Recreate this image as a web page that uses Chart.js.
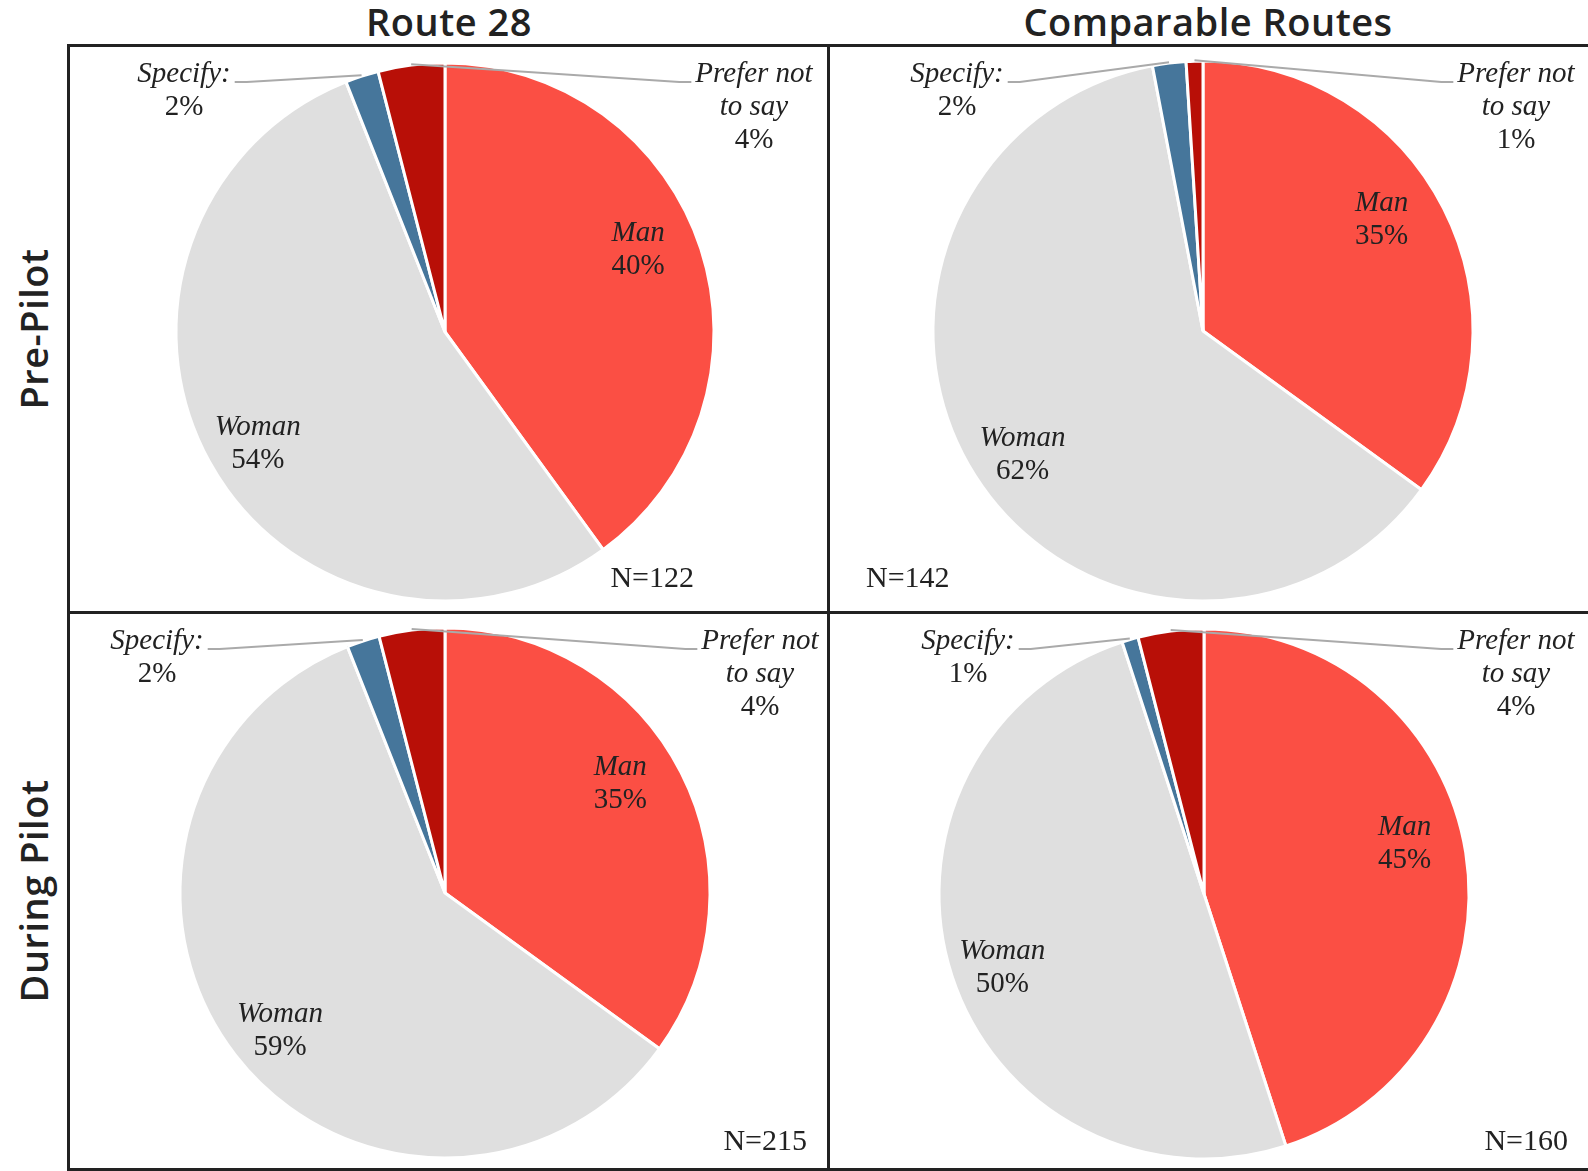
<!DOCTYPE html>
<html lang="en">
<head>
<meta charset="UTF-8">
<title>Gender - Route 28 vs Comparable Routes</title>
<script src="https://cdn.jsdelivr.net/npm/chart.js@4"></script>
<style>
  body { margin: 0; background: #fff; }
  #page { position: relative; width: 1588px; height: 1171px; overflow: hidden; background: #fff; }
  .rule { position: absolute; background: #222; }
  .title { position: absolute; font-family: "Open Sans", sans-serif; font-weight: 600; font-size: 38px;
           letter-spacing: 0.5px; color: #222; white-space: nowrap; line-height: 1; transform: translate(-50%, -50%); }
  .rowTitle { transform: translate(-50%, -50%) rotate(-90deg); }
  canvas { position: absolute; }
</style>
</head>
<body>
<div id="page"></div>

<script>
// --- data ---
const categories = ['Man', 'Woman', 'Specify:', 'Prefer not to say'];
const route28Pre = [40, 54, 2, 4];
const comparablePre = [35, 62, 2, 1];
const route28During = [35, 59, 2, 4];
const comparableDuring = [45, 50, 1, 4];
const sampleSizes = ['N=122', 'N=142', 'N=215', 'N=160'];
const columnTitles = ['Route 28', 'Comparable Routes'];
const rowTitles = ['Pre-Pilot', 'During Pilot'];

// how each category label is broken into lines
const labelLines = [['Man'], ['Woman'], ['Specify:'], ['Prefer not', 'to say']];
const colors = ['#FB4F44', '#DFDFDF', '#46769B', '#B80F07'];
// inside label placement: radius factor and angle nudge (degrees) per category
const labelRadius = [0.78, 0.81];
const labelNudge = [-5, -2];

// panel layout (pixels)
const panels = [
  { values: route28Pre,      x: 70,  y: 47,  w: 757, h: 564, cx: 445, cy: 332, r: 269, specX: 184, prefX: 754, nX: 694,  nY: 579,  nAlign: 'right' },
  { values: comparablePre,   x: 830, y: 47,  w: 758, h: 564, cx: 1203, cy: 331, r: 270, specX: 957, prefX: 1516, nX: 866, nY: 579,  nAlign: 'left' },
  { values: route28During,   x: 70,  y: 614, w: 757, h: 554, cx: 445, cy: 893, r: 265, specX: 157, prefX: 760, nX: 807,  nY: 1142, nAlign: 'right' },
  { values: comparableDuring,x: 830, y: 614, w: 758, h: 554, cx: 1204, cy: 894, r: 265, specX: 968, prefX: 1516, nX: 1568, nY: 1142, nAlign: 'right' }
];

const page = document.getElementById('page');

// grid rules
[[68, 44, 1520, 3], [67, 44, 3, 1127], [827, 44, 3, 1127], [67, 611, 1521, 3], [67, 1168, 1521, 3]].forEach(r => {
  const d = document.createElement('div');
  d.className = 'rule';
  d.style.left = r[0] + 'px'; d.style.top = r[1] + 'px';
  d.style.width = r[2] + 'px'; d.style.height = r[3] + 'px';
  page.appendChild(d);
});

// column and row titles
function addTitle(text, x, y, extra) {
  const d = document.createElement('div');
  d.className = 'title' + (extra ? ' ' + extra : '');
  d.textContent = text;
  d.style.left = x + 'px'; d.style.top = y + 'px';
  page.appendChild(d);
}
addTitle(columnTitles[0], 449, 21);
addTitle(columnTitles[1], 1208, 21);
addTitle(rowTitles[0], 33, 329, 'rowTitle');
addTitle(rowTitles[1], 33, 891, 'rowTitle');

const serif = '"Liberation Serif", "DejaVu Serif", serif';
const lineH = 33;

const sliceLabels = {
  id: 'sliceLabels',
  afterDatasetsDraw(chart, args, opts) {
    const ctx = chart.ctx;
    const meta = chart.getDatasetMeta(0);
    const values = chart.data.datasets[0].data;
    ctx.save();
    ctx.fillStyle = '#222';
    ctx.textAlign = 'center';
    ctx.textBaseline = 'middle';
    meta.data.forEach((arc, i) => {
      const p = arc.getProps(['x', 'y', 'startAngle', 'endAngle', 'outerRadius'], true);
      const mid = (p.startAngle + p.endAngle) / 2;
      const lines = labelLines[i];
      const n = lines.length + 1;
      let tx, firstY;
      if (i < 2) {
        const a = mid + labelNudge[i] * Math.PI / 180;
        const rr = p.outerRadius * labelRadius[i];
        tx = p.x + Math.cos(a) * rr;
        firstY = p.y + Math.sin(a) * rr - (n - 1) * lineH / 2;
      } else {
        tx = (i === 2 ? opts.specX : opts.prefX) - opts.left;
        firstY = 27;
        // leader line from the text to the slice edge
        ctx.font = 'italic 29px ' + serif;
        const w = ctx.measureText(lines[0]).width;
        const sx = i === 2 ? tx + w / 2 + 4 : tx - w / 2 - 4;
        const sy = firstY + 8;
        const kx = i === 2 ? sx + 12 : sx - 12;
        const ex = p.x + Math.cos(mid) * (p.outerRadius + 1);
        const ey = p.y + Math.sin(mid) * (p.outerRadius + 1);
        ctx.strokeStyle = '#AAAAAA';
        ctx.lineWidth = 2;
        ctx.beginPath();
        ctx.moveTo(sx, sy);
        ctx.lineTo(kx, sy);
        ctx.lineTo(ex, ey);
        ctx.stroke();
      }
      ctx.font = 'italic 29px ' + serif;
      lines.forEach((t, k) => ctx.fillText(t, tx, firstY + k * lineH));
      ctx.font = '29px ' + serif;
      ctx.fillText(values[i] + '%', tx, firstY + lines.length * lineH);
    });
    // sample size
    ctx.font = '30px ' + serif;
    ctx.textAlign = opts.nAlign;
    ctx.fillText(opts.nText, opts.nX - opts.left, opts.nY - opts.top);
    ctx.restore();
  }
};

panels.forEach((pn, idx) => {
  const canvas = document.createElement('canvas');
  canvas.width = pn.w; canvas.height = pn.h;
  canvas.style.left = pn.x + 'px'; canvas.style.top = pn.y + 'px';
  page.appendChild(canvas);

  new Chart(canvas.getContext('2d'), {
    type: 'pie',
    data: {
      labels: categories,
      datasets: [{
        data: pn.values,
        backgroundColor: colors,
        borderColor: '#FFFFFF',
        borderWidth: 3
      }]
    },
    options: {
      responsive: false,
      animation: false,
      radius: pn.r,
      layout: {
        padding: {
          left: pn.cx - pn.r - pn.x,
          right: pn.x + pn.w - pn.cx - pn.r,
          top: pn.cy - pn.r - pn.y,
          bottom: pn.y + pn.h - pn.cy - pn.r
        }
      },
      plugins: {
        legend: { display: false },
        tooltip: { enabled: false },
        sliceLabels: {
          left: pn.x, top: pn.y,
          specX: pn.specX, prefX: pn.prefX,
          nX: pn.nX, nY: pn.nY, nAlign: pn.nAlign,
          nText: sampleSizes[idx]
        }
      }
    },
    plugins: [sliceLabels]
  });
});
</script>
</body>
</html>
